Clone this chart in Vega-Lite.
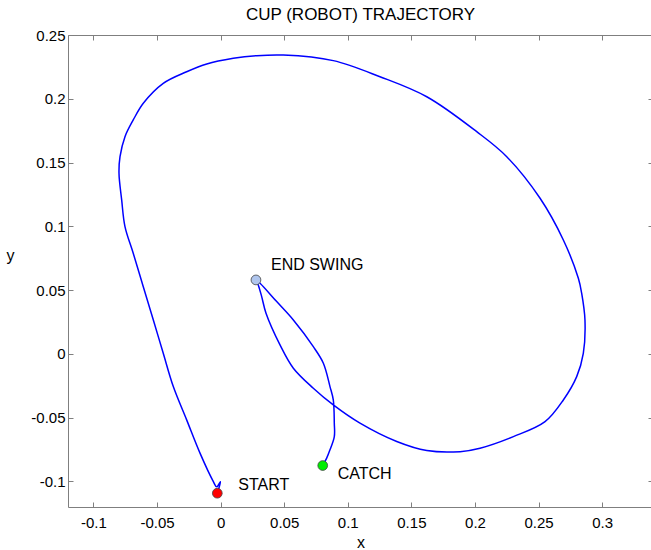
{
  "$schema": "https://vega.github.io/schema/vega-lite/v6.json",
  "width": 585,
  "height": 472,
  "autosize": {"type": "none"},
  "padding": {"left": 68, "top": 35, "right": 0, "bottom": 43},
  "background": "white",
  "title": {"text": "CUP (ROBOT) TRAJECTORY", "fontSize": 17, "font": "Liberation Sans", "fontWeight": "normal", "anchor": "middle", "offset": 4, "color": "black"},
  "config": {
    "view": {"stroke": "#7f7f7f", "strokeWidth": 1},
    "font": "Liberation Sans",
    "axis": {"grid": false, "domain": false, "tickColor": "#7f7f7f", "tickSize": -5, "labelFont": "Liberation Sans", "labelFontSize": 15, "labelColor": "black", "titleFont": "Liberation Sans", "titleFontSize": 16, "titleFontWeight": "normal", "titleColor": "black"}
  },
  "datasets": {
    "path": [
      {"i": 1, "x": -0.0026, "y": -0.1092},
      {"i": 2, "x": -0.0001, "y": -0.1001},
      {"i": 3, "x": -0.0031, "y": -0.1042},
      {"i": 4, "x": -0.0057, "y": -0.1001},
      {"i": 5, "x": -0.0162, "y": -0.0778},
      {"i": 6, "x": -0.0267, "y": -0.0517},
      {"i": 7, "x": -0.0372, "y": -0.0256},
      {"i": 8, "x": -0.0451, "y": 0.0005},
      {"i": 9, "x": -0.0529, "y": 0.0266},
      {"i": 10, "x": -0.0608, "y": 0.0527},
      {"i": 11, "x": -0.0687, "y": 0.0789},
      {"i": 12, "x": -0.0752, "y": 0.0998},
      {"i": 13, "x": -0.0778, "y": 0.1207},
      {"i": 14, "x": -0.0799, "y": 0.1416},
      {"i": 15, "x": -0.0791, "y": 0.1546},
      {"i": 16, "x": -0.0752, "y": 0.1703},
      {"i": 17, "x": -0.0687, "y": 0.1834},
      {"i": 18, "x": -0.0608, "y": 0.1965},
      {"i": 19, "x": -0.0451, "y": 0.2121},
      {"i": 20, "x": -0.0267, "y": 0.2212},
      {"i": 21, "x": -0.0109, "y": 0.2273},
      {"i": 22, "x": 0.0100, "y": 0.2317},
      {"i": 23, "x": 0.0284, "y": 0.2338},
      {"i": 24, "x": 0.0493, "y": 0.2343},
      {"i": 25, "x": 0.0886, "y": 0.2299},
      {"i": 26, "x": 0.1253, "y": 0.2173},
      {"i": 27, "x": 0.1621, "y": 0.2016},
      {"i": 28, "x": 0.2014, "y": 0.1742},
      {"i": 29, "x": 0.2250, "y": 0.1546},
      {"i": 30, "x": 0.2512, "y": 0.1220},
      {"i": 31, "x": 0.2695, "y": 0.0893},
      {"i": 32, "x": 0.2813, "y": 0.0593},
      {"i": 33, "x": 0.2839, "y": 0.0476},
      {"i": 34, "x": 0.2865, "y": 0.0266},
      {"i": 35, "x": 0.2852, "y": 0.0005},
      {"i": 36, "x": 0.2800, "y": -0.0178},
      {"i": 37, "x": 0.2695, "y": -0.0361},
      {"i": 38, "x": 0.2551, "y": -0.0531},
      {"i": 39, "x": 0.2302, "y": -0.0648},
      {"i": 40, "x": 0.2040, "y": -0.0739},
      {"i": 41, "x": 0.1883, "y": -0.0766},
      {"i": 42, "x": 0.1621, "y": -0.0758},
      {"i": 43, "x": 0.1385, "y": -0.0687},
      {"i": 44, "x": 0.1096, "y": -0.0543},
      {"i": 45, "x": 0.0886, "y": -0.0400},
      {"i": 46, "x": 0.0729, "y": -0.0269},
      {"i": 47, "x": 0.0572, "y": -0.0112},
      {"i": 48, "x": 0.0467, "y": 0.0071},
      {"i": 49, "x": 0.0357, "y": 0.0319},
      {"i": 50, "x": 0.0323, "y": 0.0449},
      {"i": 51, "x": 0.0296, "y": 0.0541},
      {"i": 52, "x": 0.0278, "y": 0.0580},
      {"i": 53, "x": 0.0310, "y": 0.0554},
      {"i": 54, "x": 0.0441, "y": 0.0410},
      {"i": 55, "x": 0.0572, "y": 0.0266},
      {"i": 56, "x": 0.0729, "y": 0.0057},
      {"i": 57, "x": 0.0808, "y": -0.0073},
      {"i": 58, "x": 0.0860, "y": -0.0256},
      {"i": 59, "x": 0.0886, "y": -0.0361},
      {"i": 60, "x": 0.0894, "y": -0.0543},
      {"i": 61, "x": 0.0894, "y": -0.0648},
      {"i": 62, "x": 0.0860, "y": -0.0752},
      {"i": 63, "x": 0.0834, "y": -0.0817},
      {"i": 64, "x": 0.0803, "y": -0.0875}
    ],
    "events": [
      {"event": "START", "x": -0.0026, "y": -0.1092},
      {"event": "END SWING", "x": 0.0278, "y": 0.0580},
      {"event": "CATCH", "x": 0.0803, "y": -0.0875}
    ]
  },
  "layer": [
    {
      "data": {"name": "path"},
      "mark": {"type": "line", "color": "#0000ff", "strokeWidth": 1.5, "clip": true, "interpolate": "catmull-rom"},
      "encoding": {
        "order": {"field": "i", "type": "quantitative"},
        "x": {"field": "x", "type": "quantitative", "scale": {"domain": [-0.12, 0.34], "nice": false, "zero": false},
          "axis": {"orient": "bottom", "values": [-0.1, -0.05, 0, 0.05, 0.1, 0.15, 0.2, 0.25, 0.3], "labelExpr": "'' + datum.value", "labelPadding": 13, "title": "x", "titleY": 40, "titleBaseline": "alphabetic"}},
        "y": {"field": "y", "type": "quantitative", "scale": {"domain": [-0.12, 0.25], "nice": false, "zero": false},
          "axis": {"orient": "left", "values": [-0.1, -0.05, 0, 0.05, 0.1, 0.15, 0.2, 0.25], "labelExpr": "'' + datum.value", "labelPadding": 8, "title": "y", "titleAngle": 0, "titleX": -58, "titleY": 225, "titleAlign": "center", "titleBaseline": "alphabetic"}}
      }
    },
    {
      "data": {"name": "events"},
      "mark": {"type": "point", "filled": true, "size": 95, "opacity": 1, "stroke": "#444444", "strokeWidth": 0.8},
      "encoding": {
        "x": {"field": "x", "type": "quantitative",
          "axis": {"orient": "top", "values": [-0.1, -0.05, 0, 0.05, 0.1, 0.15, 0.2, 0.25, 0.3], "labels": false, "title": null}},
        "y": {"field": "y", "type": "quantitative",
          "axis": {"orient": "right", "values": [-0.1, -0.05, 0, 0.05, 0.1, 0.15, 0.2, 0.25], "labels": false, "title": null}},
        "fill": {"field": "event", "type": "nominal", "scale": {"domain": ["START", "END SWING", "CATCH"], "range": ["#ff0000", "#b0c6ee", "#00ee00"]}, "legend": null}
      }
    },
    {
      "data": {"name": "events"},
      "transform": [{"filter": "datum.event == 'START'"}],
      "mark": {"type": "text", "align": "left", "baseline": "middle", "dx": 21, "dy": -8, "fontSize": 16, "font": "Liberation Sans", "color": "black"},
      "encoding": {
        "x": {"field": "x", "type": "quantitative", "axis": null},
        "y": {"field": "y", "type": "quantitative", "axis": null},
        "text": {"field": "event"}
      }
    },
    {
      "data": {"name": "events"},
      "transform": [{"filter": "datum.event == 'CATCH'"}],
      "mark": {"type": "text", "align": "left", "baseline": "middle", "dx": 15, "dy": 8, "fontSize": 16, "font": "Liberation Sans", "color": "black"},
      "encoding": {
        "x": {"field": "x", "type": "quantitative", "axis": null},
        "y": {"field": "y", "type": "quantitative", "axis": null},
        "text": {"field": "event"}
      }
    },
    {
      "data": {"name": "events"},
      "transform": [{"filter": "datum.event == 'END SWING'"}],
      "mark": {"type": "text", "align": "left", "baseline": "middle", "dx": 15, "dy": -15, "fontSize": 16, "font": "Liberation Sans", "color": "black"},
      "encoding": {
        "x": {"field": "x", "type": "quantitative", "axis": null},
        "y": {"field": "y", "type": "quantitative", "axis": null},
        "text": {"field": "event"}
      }
    }
  ],
  "resolve": {"axis": {"x": "independent", "y": "independent"}}
}
